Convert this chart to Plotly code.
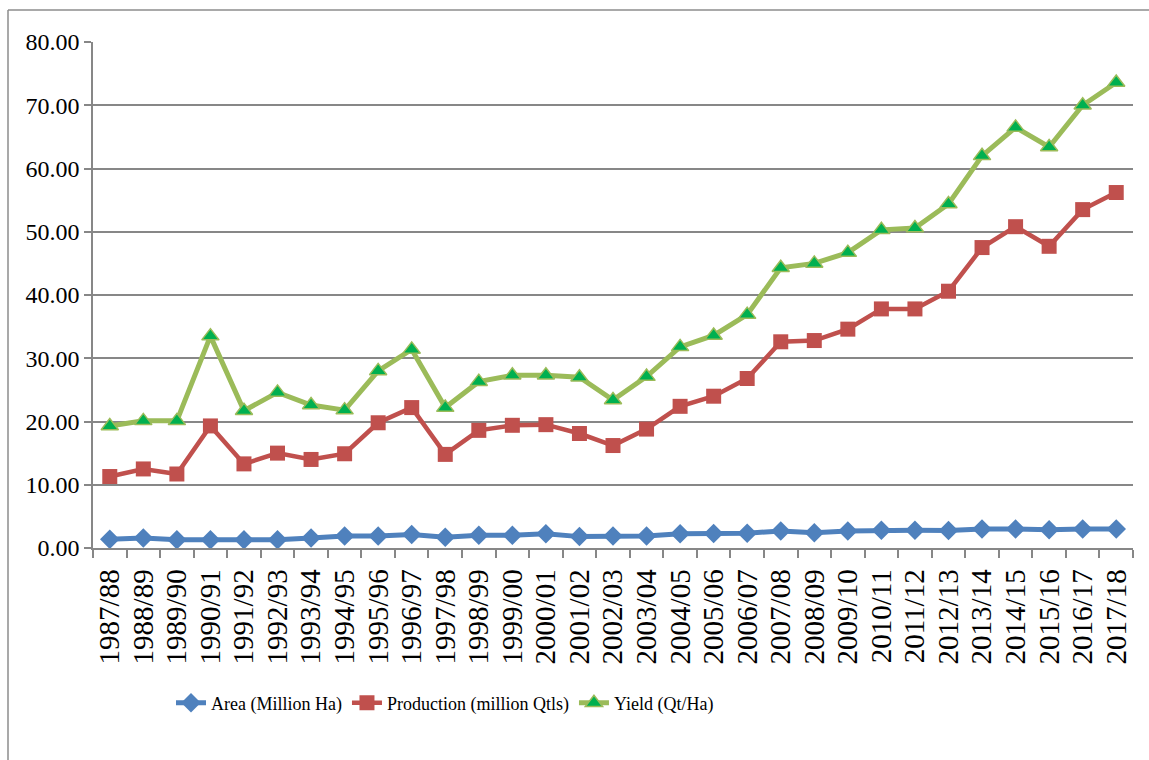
import plotly.graph_objects as go

# Crop seasons on the category axis
seasons = [
    "1987/88", "1988/89", "1989/90", "1990/91", "1991/92", "1992/93", "1993/94",
    "1994/95", "1995/96", "1996/97", "1997/98", "1998/99", "1999/00", "2000/01",
    "2001/02", "2002/03", "2003/04", "2004/05", "2005/06", "2006/07", "2007/08",
    "2008/09", "2009/10", "2010/11", "2011/12", "2012/13", "2013/14", "2014/15",
    "2015/16", "2016/17", "2017/18",
]

area_mha = [
    1.37, 1.6, 1.3, 1.3, 1.3, 1.3, 1.6, 1.9, 1.9, 2.15, 1.7, 2.0, 2.0, 2.25, 1.8,
    1.9, 1.9, 2.25, 2.3, 2.35, 2.7, 2.4, 2.7, 2.8, 2.8, 2.75, 3.0, 3.0, 2.9, 3.0, 3.0,
]

production_mqtl = [
    11.3, 12.5, 11.7, 19.3, 13.3, 15.0, 14.0, 14.9, 19.8, 22.2, 14.8, 18.6, 19.4,
    19.5, 18.1, 16.2, 18.8, 22.4, 24.0, 26.8, 32.6, 32.8, 34.6, 37.8, 37.8, 40.6,
    47.5, 50.8, 47.7, 53.5, 56.2,
]

yield_qt_ha = [
    19.3, 20.1, 20.1, 33.5, 21.7, 24.6, 22.6, 21.8, 28.0, 31.4, 22.2, 26.3, 27.3,
    27.3, 27.0, 23.4, 27.1, 31.8, 33.6, 36.9, 44.3, 45.0, 46.7, 50.3, 50.6, 54.4,
    62.0, 66.5, 63.4, 70.0, 73.6,
]

y_ticks = [0, 10, 20, 30, 40, 50, 60, 70, 80]

W, H = 1149, 760
ML, MR, MT, MB = 93, 16, 42, 212
PW, PH = W - ML - MR, H - MT - MB
FONT = "Liberation Serif"
GRID = "#878787"


def px_x(px):
    return (px - ML) / PW


def px_y(py):
    return (H - MB - py) / PH


fig = go.Figure()

fig.add_trace(go.Scatter(
    x=seasons, y=area_mha, name="Area (Million Ha)", mode="lines+markers",
    line=dict(color="#4F81BD", width=5),
    marker=dict(symbol="diamond", size=15, color="#4F81BD"),
))
fig.add_trace(go.Scatter(
    x=seasons, y=production_mqtl, name="Production (million Qtls)", mode="lines+markers",
    line=dict(color="#C0504D", width=4.5),
    marker=dict(symbol="square", size=15, color="#C0504D"),
))
fig.add_trace(go.Scatter(
    x=seasons, y=yield_qt_ha, name="Yield (Qt/Ha)", mode="lines+markers",
    line=dict(color="#9BBB59", width=5),
    marker=dict(symbol="triangle-up", size=15, color="#00B050",
                line=dict(color="#9BBB59", width=1.5)),
))

# Outer chart frame (top and left edges are visible)
fig.add_shape(type="line", xref="paper", yref="paper",
              x0=px_x(8), x1=px_x(W + 5), y0=px_y(10), y1=px_y(10),
              line=dict(color="#8C8C8C", width=1.5))
fig.add_shape(type="line", xref="paper", yref="paper",
              x0=px_x(8), x1=px_x(8), y0=px_y(10), y1=px_y(H + 5),
              line=dict(color="#8C8C8C", width=1.5))

fig.update_layout(
    width=W, height=H,
    margin=dict(l=ML, r=MR, t=MT, b=MB, autoexpand=False),
    paper_bgcolor="white", plot_bgcolor="white",
    font=dict(family=FONT, color="black"),
    showlegend=True,
    legend=dict(
        orientation="h", x=px_x(445), xanchor="center", y=px_y(703), yanchor="middle",
        font=dict(family=FONT, size=18, color="black"),
        itemwidth=30, tracegroupgap=0, bgcolor="rgba(0,0,0,0)",
    ),
)

fig.update_xaxes(
    type="category", tickangle=-90, tickson="boundaries",
    tickmode="linear", tick0=0, dtick=1,
    ticks="outside", ticklen=8, tickcolor=GRID, tickwidth=1.5,
    showline=True, linecolor=GRID, linewidth=1.5, showgrid=False,
    tickfont=dict(family=FONT, size=29, color="black"),
    ticklabelstandoff=8,
    range=[-0.5, len(seasons) - 0.5],
)
fig.update_yaxes(
    range=[0, 80], tickvals=y_ticks, tickformat=".2f",
    ticks="outside", ticklen=7, tickcolor=GRID, tickwidth=1.5,
    showline=True, linecolor=GRID, linewidth=1.5,
    showgrid=True, gridcolor=GRID, gridwidth=1.5, zeroline=False,
    tickfont=dict(family=FONT, size=24, color="black"),
)

fig.write_html("out.html")
